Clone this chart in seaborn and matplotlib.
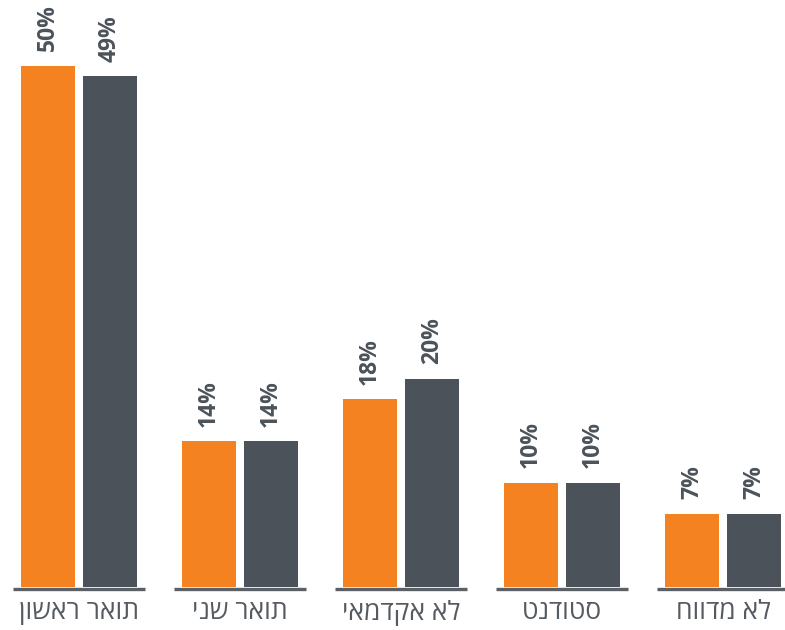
import matplotlib
matplotlib.use("Agg")
import matplotlib.pyplot as plt
import seaborn as sns
import pandas as pd

categories = ["תואר ראשון", "תואר שני", "לא אקדמאי", "סטודנט", "לא מדווח"]
series_names = ["A", "B"]
values_a = [50, 14, 18, 10, 7]
values_b = [49, 14, 20, 10, 7]

ORANGE = "#F58220"
GRAY = "#4B5259"
TEXT = "#4B5259"
LABEL = "#555B61"

sns.set_theme(style="white")
plt.rcParams['font.family'] = ['Open Sans', 'DejaVu Sans']

def vis(s):
    return s[::-1]

df = pd.DataFrame({
    "cat": categories * 2,
    "series": [series_names[0]] * len(categories) + [series_names[1]] * len(categories),
    "value": values_a + values_b,
})

PX_PER_UNIT = 10.42
fig = plt.figure(figsize=(7.85, 6.30), dpi=100)
ax = fig.add_axes([0, 43 / 630, 1, 587 / 630])
sns.barplot(data=df, x="cat", y="value", hue="series", order=categories,
            hue_order=series_names, palette=[ORANGE, GRAY], width=0.77, gap=0.13,
            saturation=1, legend=False, ax=ax, errorbar=None, linewidth=0)

ax.set_xlim(-79 / 161, (785 - 79) / 161)
ax.set_ylim(0, 587 / PX_PER_UNIT)
for s in ax.spines.values():
    s.set_visible(False)
ax.set_xticks([])
ax.set_yticks([])
ax.set_xlabel("")
ax.set_ylabel("")

line_y = -1.5 / PX_PER_UNIT
for i, cat in enumerate(categories):
    ax.hlines(line_y, i - 0.41, i + 0.41, color="#5A6066", lw=2.4, clip_on=False, zorder=3)
    ax.annotate(vis(cat), (i, line_y), xytext=(0, -17.5), textcoords="offset points",
                ha="center", va="center", fontsize=19, color=LABEL, annotation_clip=False)

for bars, vals in zip(ax.containers, [values_a, values_b]):
    for bar, v in zip(bars, vals):
        ax.annotate(f"{v}%", (bar.get_x() + bar.get_width() / 2, bar.get_height()),
                    xytext=(0, 10.5), textcoords="offset points", rotation=90,
                    ha="center", va="bottom", fontsize=16.5, fontweight="bold",
                    color=TEXT, annotation_clip=False)

fig.savefig("out.png", dpi=100)
